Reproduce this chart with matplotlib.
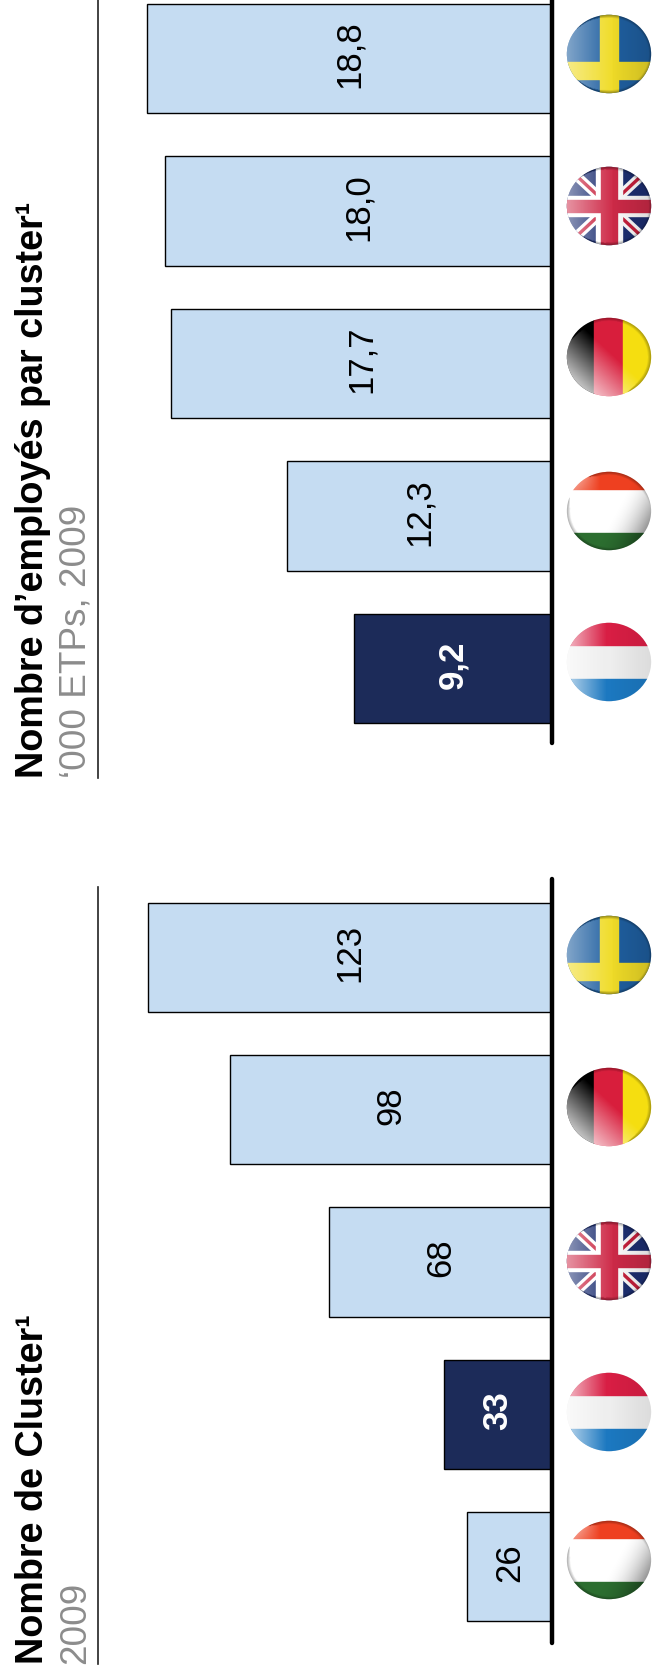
"""
Cluster charts, rotated page: two bar charts with round flags
"""
import numpy as np
import matplotlib
matplotlib.use("Agg")
import matplotlib.pyplot as plt
from matplotlib.lines import Line2D
from matplotlib.patches import Circle, Rectangle

plt.rcParams["font.family"] = ["Liberation Sans", "DejaVu Sans"]

W, H = 655, 1681

# data, from bottom to top of the page
clusters_countries = ["HU", "LU", "UK", "DE", "SE"]
clusters_values = [26, 33, 68, 98, 123]
clusters_labels = ["26", "33", "68", "98", "123"]
clusters_title = "Nombre de Cluster\u00b9"
clusters_sub = "2009"

staff_countries = ["LU", "HU", "DE", "UK", "SE"]
staff_values = [9.2, 12.3, 17.7, 18.0, 18.8]
staff_labels = ["9,2", "12,3", "17,7", "18,0", "18,8"]
staff_title = "Nombre d\u2019employés par cluster\u00b9"
staff_sub = "\u2018000 ETPs, 2009"

highlight = "LU"
LIGHT = "#C5DCF2"
NAVY = "#1C2B59"
GREY = "#8C8C8C"


def figx(px):
    return px / W


def figy(py):
    return 1 - py / H


def draw_flag(fig, country, cx, cy):
    """Round glossy flag, centred on pixel position cx, cy"""
    rx, ry = 43, 40
    ax = fig.add_axes([figx(cx - rx), figy(cy + ry), 2 * rx / W, 2 * ry / H])
    ax.set_xlim(-1, 1)
    ax.set_ylim(-1, 1)
    ax.axis("off")
    clip = Circle((0, 0), 0.98, transform=ax.transData)

    shapes = []
    if country == "SE":
        shapes += [Rectangle((-1, -1), 2, 2, color="#1F5FA0"),
                   Rectangle((-0.2, -1), 0.4, 2, color="#F0DC28"),
                   Rectangle((-1, -0.63), 2, 0.43, color="#F0DC28")]
    elif country == "UK":
        shapes += [Rectangle((-1, -1), 2, 2, color="#1D2F72")]
    elif country == "DE":
        shapes += [Rectangle((-1, -1), 0.65, 2, color="#000000"),
                   Rectangle((-0.35, -1), 0.68, 2, color="#D81E3C"),
                   Rectangle((0.33, -1), 0.67, 2, color="#F5DE10")]
    elif country == "HU":
        shapes += [Rectangle((-1, -1), 2, 2, color="#FFFFFF"),
                   Rectangle((-1, 0.56), 2, 0.44, color="#EE4020"),
                   Rectangle((-1, -1), 2, 0.46, color="#2C6E30")]
    elif country == "LU":
        shapes += [Rectangle((-1, -1), 2, 2, color="#EEEEEE"),
                   Rectangle((-1, 0.42), 2, 0.58, color="#D81E44"),
                   Rectangle((-1, -1), 2, 0.58, color="#1C78C0")]
    for shape in shapes:
        ax.add_patch(shape)
        shape.set_clip_path(clip)

    if country == "UK":
        for sx in (-1, 1):
            white = ax.plot([-sx, sx], [-1, 1], color="white", lw=7, zorder=2)[0]
            red = ax.plot([-sx, sx], [-1, 1], color="#C8203C", lw=2.4, zorder=2.1)[0]
            white.set_clip_path(clip)
            red.set_clip_path(clip)
        for shape in [Rectangle((-1, -0.26), 2, 0.52, color="white", zorder=3),
                      Rectangle((-0.3, -1), 0.6, 2, color="white", zorder=3),
                      Rectangle((-1, -0.16), 2, 0.32, color="#CE2A48", zorder=3.1),
                      Rectangle((-0.18, -1), 0.36, 2, color="#CE2A48", zorder=3.1)]:
            ax.add_patch(shape)
            shape.set_clip_path(clip)

    # gloss: white wash from one side, dark rim
    gx, gy = np.meshgrid(np.linspace(-1, 1, 120), np.linspace(1, -1, 120))
    rr = np.hypot(gx, gy)
    if country == "HU":
        wash = np.clip(-gx - 0.2, 0, 1) * np.clip(gy, 0, 1) * 1.2
        shade = np.clip((gx - gy * 0.5 - 0.1) / 1.1, 0, 1) ** 2 * 0.5
        rim_alpha = 0.3
    elif country == "LU":
        wash = np.clip(-gx - 0.05, 0, 1) * 0.75
        shade = np.clip(gx, 0, 1) * 0.08
        rim_alpha = 0.0
    elif country == "DE":
        wash = np.clip((-gx - gy) / 1.5 + 0.1, 0, 1) * 0.75
        shade = np.zeros_like(gx)
        rim_alpha = 0.3
    else:
        wash = np.clip(-gx * 0.9 + 0.1, 0, 1) * (0.45 if country == "SE" else 0.5)
        shade = np.clip(gx, 0, 1) * 0.15
        rim_alpha = 0.35
    rim = np.clip((rr - 0.9) / 0.08, 0, 1) * rim_alpha
    overlay = np.zeros(gx.shape + (4,))
    dark = np.maximum(shade, rim)
    overlay[..., :3] = np.where((dark > wash)[..., None], 0.0, 1.0)
    overlay[..., 3] = np.maximum(wash, dark)
    img = ax.imshow(overlay, extent=(-1, 1, -1, 1), aspect="auto", zorder=5, interpolation="bilinear")
    img.set_clip_path(clip)
    ax.set_xlim(-1, 1)
    ax.set_ylim(-1, 1)


def draw_chart(fig, countries, values, labels, title, sub, top, bottom, xmax,
               base_top, base_bottom, rule_top, rule_bottom, flag_ys):
    """One bar chart; top and bottom are the pixel limits of the axes"""
    left, right = 98, 552
    ax = fig.add_axes([figx(left), figy(bottom), (right - left) / W, (bottom - top) / H])
    ax.patch.set_alpha(0)
    pos = np.arange(len(values))
    colors = [NAVY if c == highlight else LIGHT for c in countries]
    ax.barh(pos, values, height=0.717, color=colors, edgecolor="black", linewidth=1.0)
    ax.set_xlim(xmax, 0)
    ax.set_ylim(-0.5, len(values) - 0.5)
    ax.axis("off")

    for i, (v, lab, c) in enumerate(zip(values, labels, countries)):
        hi = c == highlight
        ax.annotate(lab, (v / 2, i), xytext=(0, 3.5), textcoords="offset points",
                    rotation=90, ha="center", va="center", fontsize=25,
                    color="white" if hi else "black", fontweight="bold" if hi else "normal")

    fig.add_artist(Line2D([figx(right)] * 2, [figy(base_top), figy(base_bottom)],
                          color="black", lw=3.2, solid_capstyle="round"))
    fig.add_artist(Line2D([figx(left)] * 2, [figy(rule_top), figy(rule_bottom)],
                          color="#222222", lw=1.2))
    fig.text(figx(33), figy(rule_bottom - 1), title, rotation=90, ha="center", va="bottom",
             fontsize=27.2, fontweight="bold", color="black")
    fig.text(figx(76), figy(rule_bottom - 1), sub, rotation=90, ha="center", va="bottom",
             fontsize=26.6, color=GREY)

    for c, fy in zip(countries, flag_ys):
        draw_flag(fig, c, 609, fy)


fig = plt.figure(figsize=(W / 100, H / 100), dpi=100)
fig.patch.set_facecolor("white")

# page layout, in pixels from the top left
draw_chart(fig, staff_countries, staff_values, staff_labels, staff_title, staff_sub,
           top=-17, bottom=746, xmax=21.1, base_top=0, base_bottom=744,
           rule_top=0, rule_bottom=779, flag_ys=[663, 512, 358, 207, 55])
draw_chart(fig, clusters_countries, clusters_values, clusters_labels, clusters_title, clusters_sub,
           top=882, bottom=1644, xmax=138.2, base_top=880, base_bottom=1644,
           rule_top=888, rule_bottom=1665, flag_ys=[1561, 1413, 1262, 1108, 956])

fig.savefig("out.png", dpi=100)
